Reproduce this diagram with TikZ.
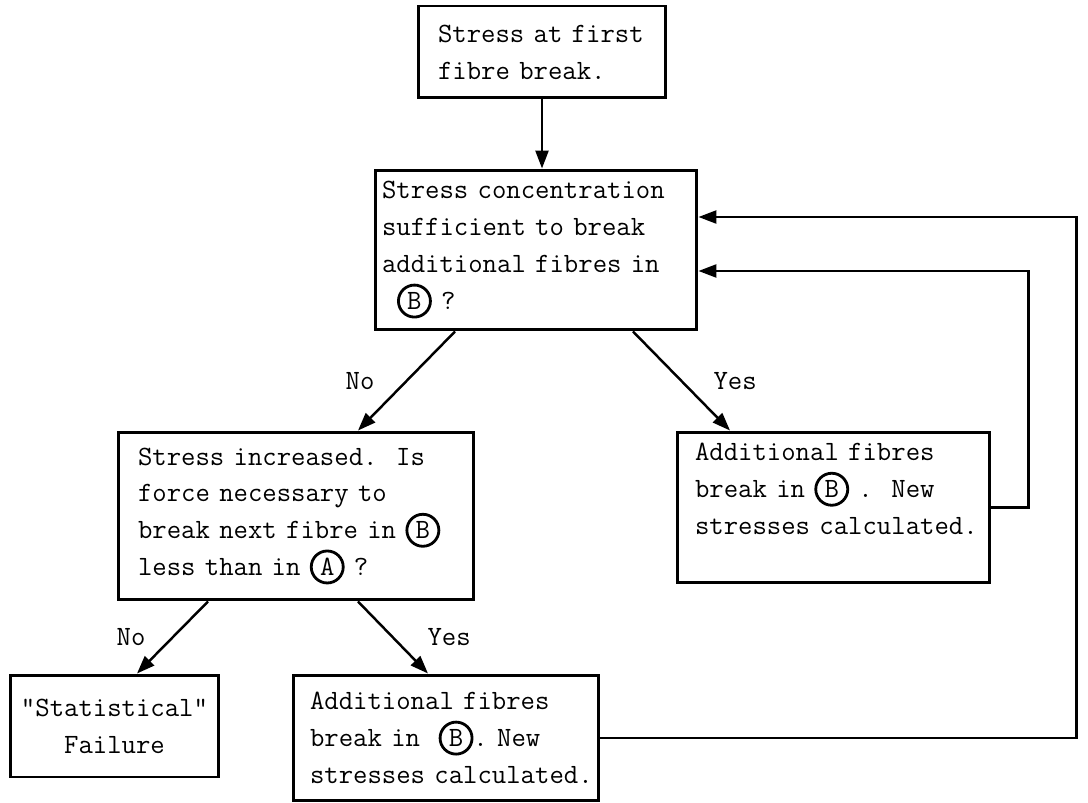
\documentclass[tikz,border=0pt]{standalone}
\usepackage{fontspec}
\usetikzlibrary{arrows.meta}

\newcommand{\ringed}[1]{\tikz[baseline=(r.base)] \node[draw, circle, line width=1.6pt, inner sep=0pt, minimum size=0.64cm, text width={}, align=center] (r) {#1};}

\tikzset{
  box/.style={draw, line width=1.7pt, inner ysep=0pt, inner xsep=0.1cm, align=left},
  flow/.style={line width=1.4pt, -{Triangle[length=0.36cm, width=0.26cm]}},
}

\begin{document}
\frenchspacing
\begin{tikzpicture}[x=0.02cm, y=-0.02cm, font=\ttfamily\fontsize{15.9pt}{21pt}\selectfont]
    \useasboundingbox (0,0) rectangle (1088,803);

    \node[box, minimum width=4.96cm, minimum height=1.84cm, text width=4.76cm] (first) at (542,52)
      {\hspace*{0.3cm}Stress at first\\\hspace*{0.3cm}fibre break.};
    \node[box, minimum width=6.44cm, minimum height=3.2cm, text width=6.16cm, inner xsep=0.14cm] (conc) at (536,250)
      {Stress concentration\\sufficient to break\\additional fibres in\\\hspace*{0.3cm}\ringed{B} ?};
    \node[box, minimum width=7.12cm, minimum height=3.36cm, text width=6.92cm] (incr) at (296,516)
      {\hspace*{0.3cm}Stress increased.\ \ Is\\\hspace*{0.3cm}force necessary to\\\hspace*{0.3cm}break next fibre in \ringed{B}\\\hspace*{0.3cm}less than in \ringed{A} ?};
    \node[box, minimum width=6.26cm, minimum height=3.02cm, text width=6.06cm] (addR) at (833.5,507.5)
      {\hspace*{0.26cm}Additional fibres\\\hspace*{0.26cm}break in \ringed{B}\ .\ \ New\\\hspace*{0.26cm}\mbox{stresses calculated.}\\\mbox{}};
    \node[box, align=center, minimum width=4.18cm, minimum height=2.04cm, text width=3.98cm] (stat) at (114.5,726)
      {\textquotedbl Statistical\textquotedbl\\Failure};
    \node[box, minimum width=6.12cm, minimum height=2.52cm, text width=5.92cm] (addL) at (446,738)
      {\hspace*{0.24cm}Additional fibres\\\hspace*{0.24cm}break in\ \ \ringed{B}. New\\\hspace*{0.24cm}\mbox{stresses calculated.}};

    \draw[flow] (first.south) -- (first.south |- conc.north);
    \draw[flow] ([xshift=-1.62cm]conc.south) -- node[left=0.5cm] {No} ([xshift=1.24cm]incr.north);
    \draw[flow] ([xshift=1.94cm]conc.south) -- node[right=0.5cm] {Yes} ([xshift=-2.07cm]addR.north);
    \draw[flow] ([xshift=-1.76cm]incr.south) -- node[left=0.4cm] {No} ([xshift=0.45cm]stat.north);
    \draw[flow] ([xshift=1.24cm]incr.south) -- node[right=0.55cm] {Yes} ([xshift=-0.36cm]addL.north);
    \draw[flow] (addR.east) -- ++(37,0) |- ([yshift=-0.42cm]conc.east);
    \draw[flow] (addL.east) -- ++(476,0) |- ([yshift=0.66cm]conc.east);
\end{tikzpicture}
\end{document}
